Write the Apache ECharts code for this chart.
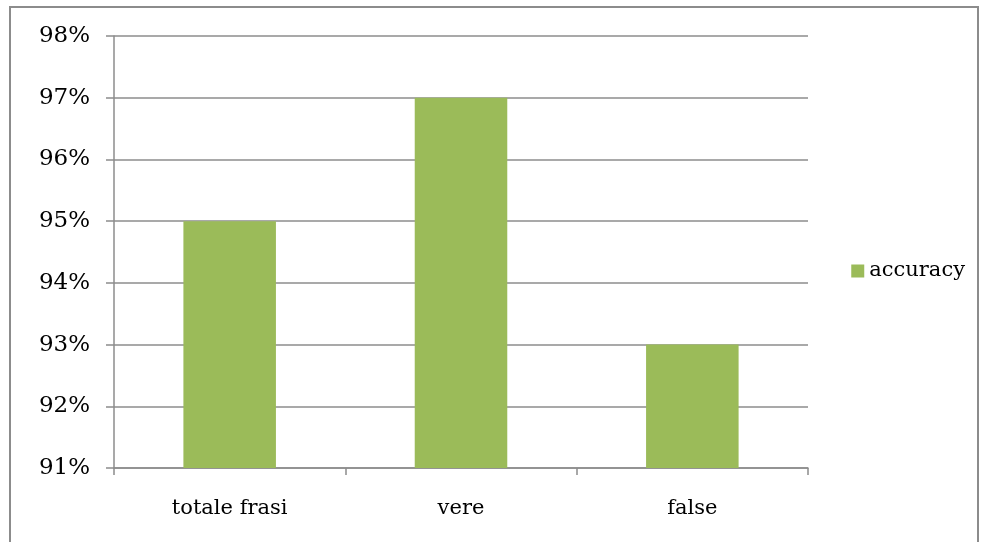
<!DOCTYPE html>
<html><head><meta charset="utf-8">
<script src="https://cdn.jsdelivr.net/npm/echarts@6/dist/echarts.min.js"></script>
<style>html,body{margin:0;padding:0;background:#fff}#c{width:982px;height:542px}</style>
</head><body><div id="c"></div>
<script>
const categories = ['totale frasi', 'vere', 'false'];
const accuracy = [95, 97, 93];
const seriesName = 'accuracy';
const yMin = 91, yMax = 98, yStep = 1;

const chart = echarts.init(document.getElementById('c'), null, {renderer: 'canvas'});
const font = 'DejaVu Serif';
chart.setOption({
  animation: false,
  backgroundColor: '#fff',
  graphic: [{
    type: 'rect', shape: {x: 10, y: 7, width: 968, height: 560},
    style: {fill: 'none', stroke: '#8c8c8c', lineWidth: 2}, silent: true
  }],
  grid: {left: 114, right: 174, top: 36, bottom: 74, containLabel: false},
  legend: {
    right: 12, top: 'middle', orient: 'vertical',
    itemWidth: 13, itemHeight: 13, icon: 'rect', itemGap: 6,
    textStyle: {fontFamily: font, fontSize: 21, color: '#000'},
    data: [seriesName]
  },
  xAxis: {
    type: 'category', data: categories,
    axisLine: {lineStyle: {color: '#8c8c8c', width: 1.5}},
    axisTick: {show: true, length: 7, lineStyle: {color: '#8c8c8c', width: 1.5}},
    axisLabel: {fontFamily: font, fontSize: 21, color: '#000', margin: 30}
  },
  yAxis: {
    type: 'value', min: yMin, max: yMax, interval: yStep,
    axisLine: {show: true, lineStyle: {color: '#8c8c8c', width: 1.5}},
    axisTick: {show: true, length: 8, lineStyle: {color: '#8c8c8c', width: 1.5}},
    splitLine: {lineStyle: {color: '#8c8c8c', width: 1.5}},
    axisLabel: {fontFamily: font, fontSize: 23, color: '#000', margin: 24, formatter: v => v + '%'}
  },
  series: [{
    name: seriesName, type: 'bar', data: accuracy, barWidth: '40%',
    itemStyle: {color: '#9bbb59'}
  }]
});
</script></body></html>
